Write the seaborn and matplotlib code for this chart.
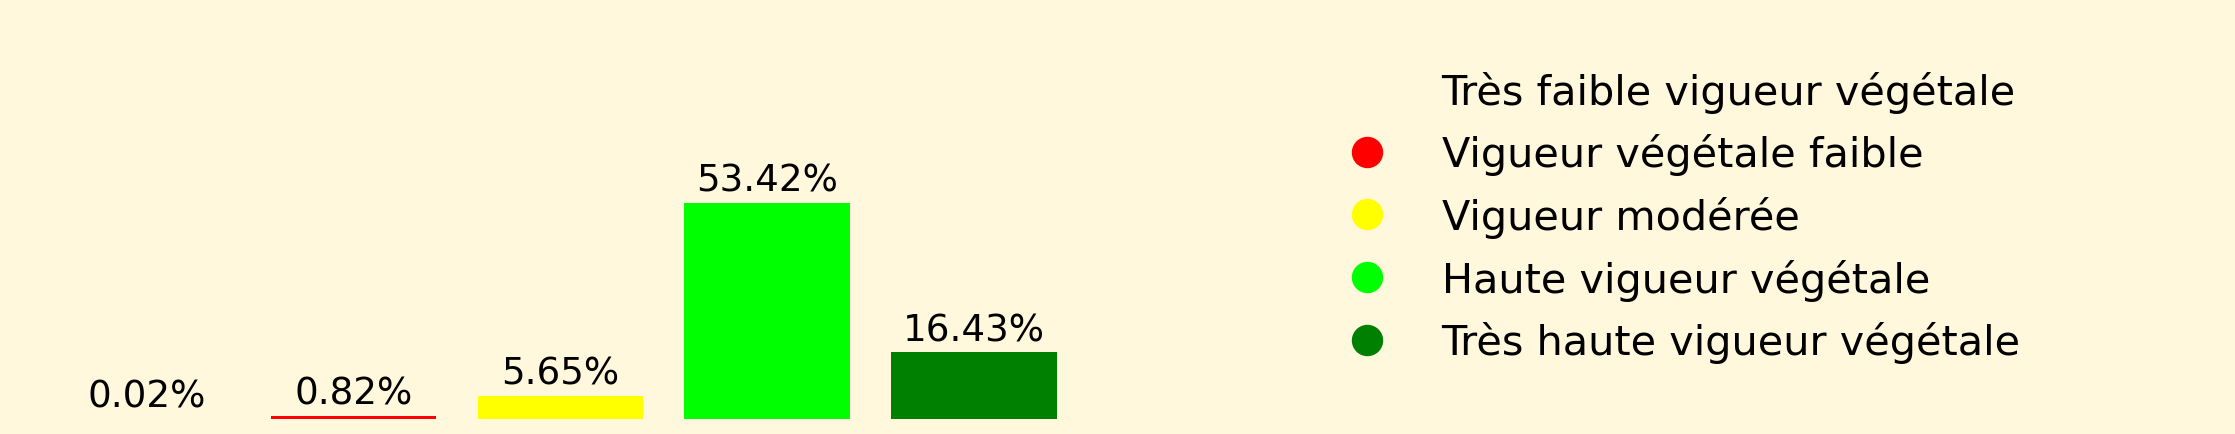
import matplotlib
matplotlib.use("Agg")
import matplotlib.pyplot as plt
from matplotlib.lines import Line2D
import seaborn as sns
import pandas as pd

# classes de vigueur (NDVI) et part de surface en %
categories = [
    "Très faible vigueur végétale",
    "Vigueur végétale faible",
    "Vigueur modérée",
    "Haute vigueur végétale",
    "Très haute vigueur végétale",
]
percentages = [0.02, 0.82, 5.65, 53.42, 16.43]
colors = ["none", "red", "yellow", "lime", "green"]

bg = "#FFF8DC"
df = pd.DataFrame({"classe": categories, "pct": percentages})

fig = plt.figure(figsize=(22.35, 4.35), dpi=100, facecolor=bg)
ax = fig.add_axes([0.0195, 0.0345, 0.4625, 0.5586])
ax.set_facecolor(bg)

sns.barplot(data=df, x="classe", y="pct", hue="classe", palette=colors,
            width=0.8, saturation=1, legend=False, ax=ax)

for cont in ax.containers:
    ax.bar_label(cont, fmt="%.2f%%", padding=3, fontsize=26.8, color="black")

ax.set_ylim(0, 60)
ax.set_xlim(-0.5, len(categories) - 0.5)
ax.axis("off")

## legend with round markers
handles = [Line2D([], [], marker="o", linestyle="", color=c, markersize=21.6)
           for c in colors]
fig.legend(handles, categories, loc="center left",
           bbox_to_anchor=(0.5765, 0.499), frameon=False,
           fontsize=29.8, labelspacing=0.5)

fig.savefig("out.png", dpi=100, facecolor=bg)
